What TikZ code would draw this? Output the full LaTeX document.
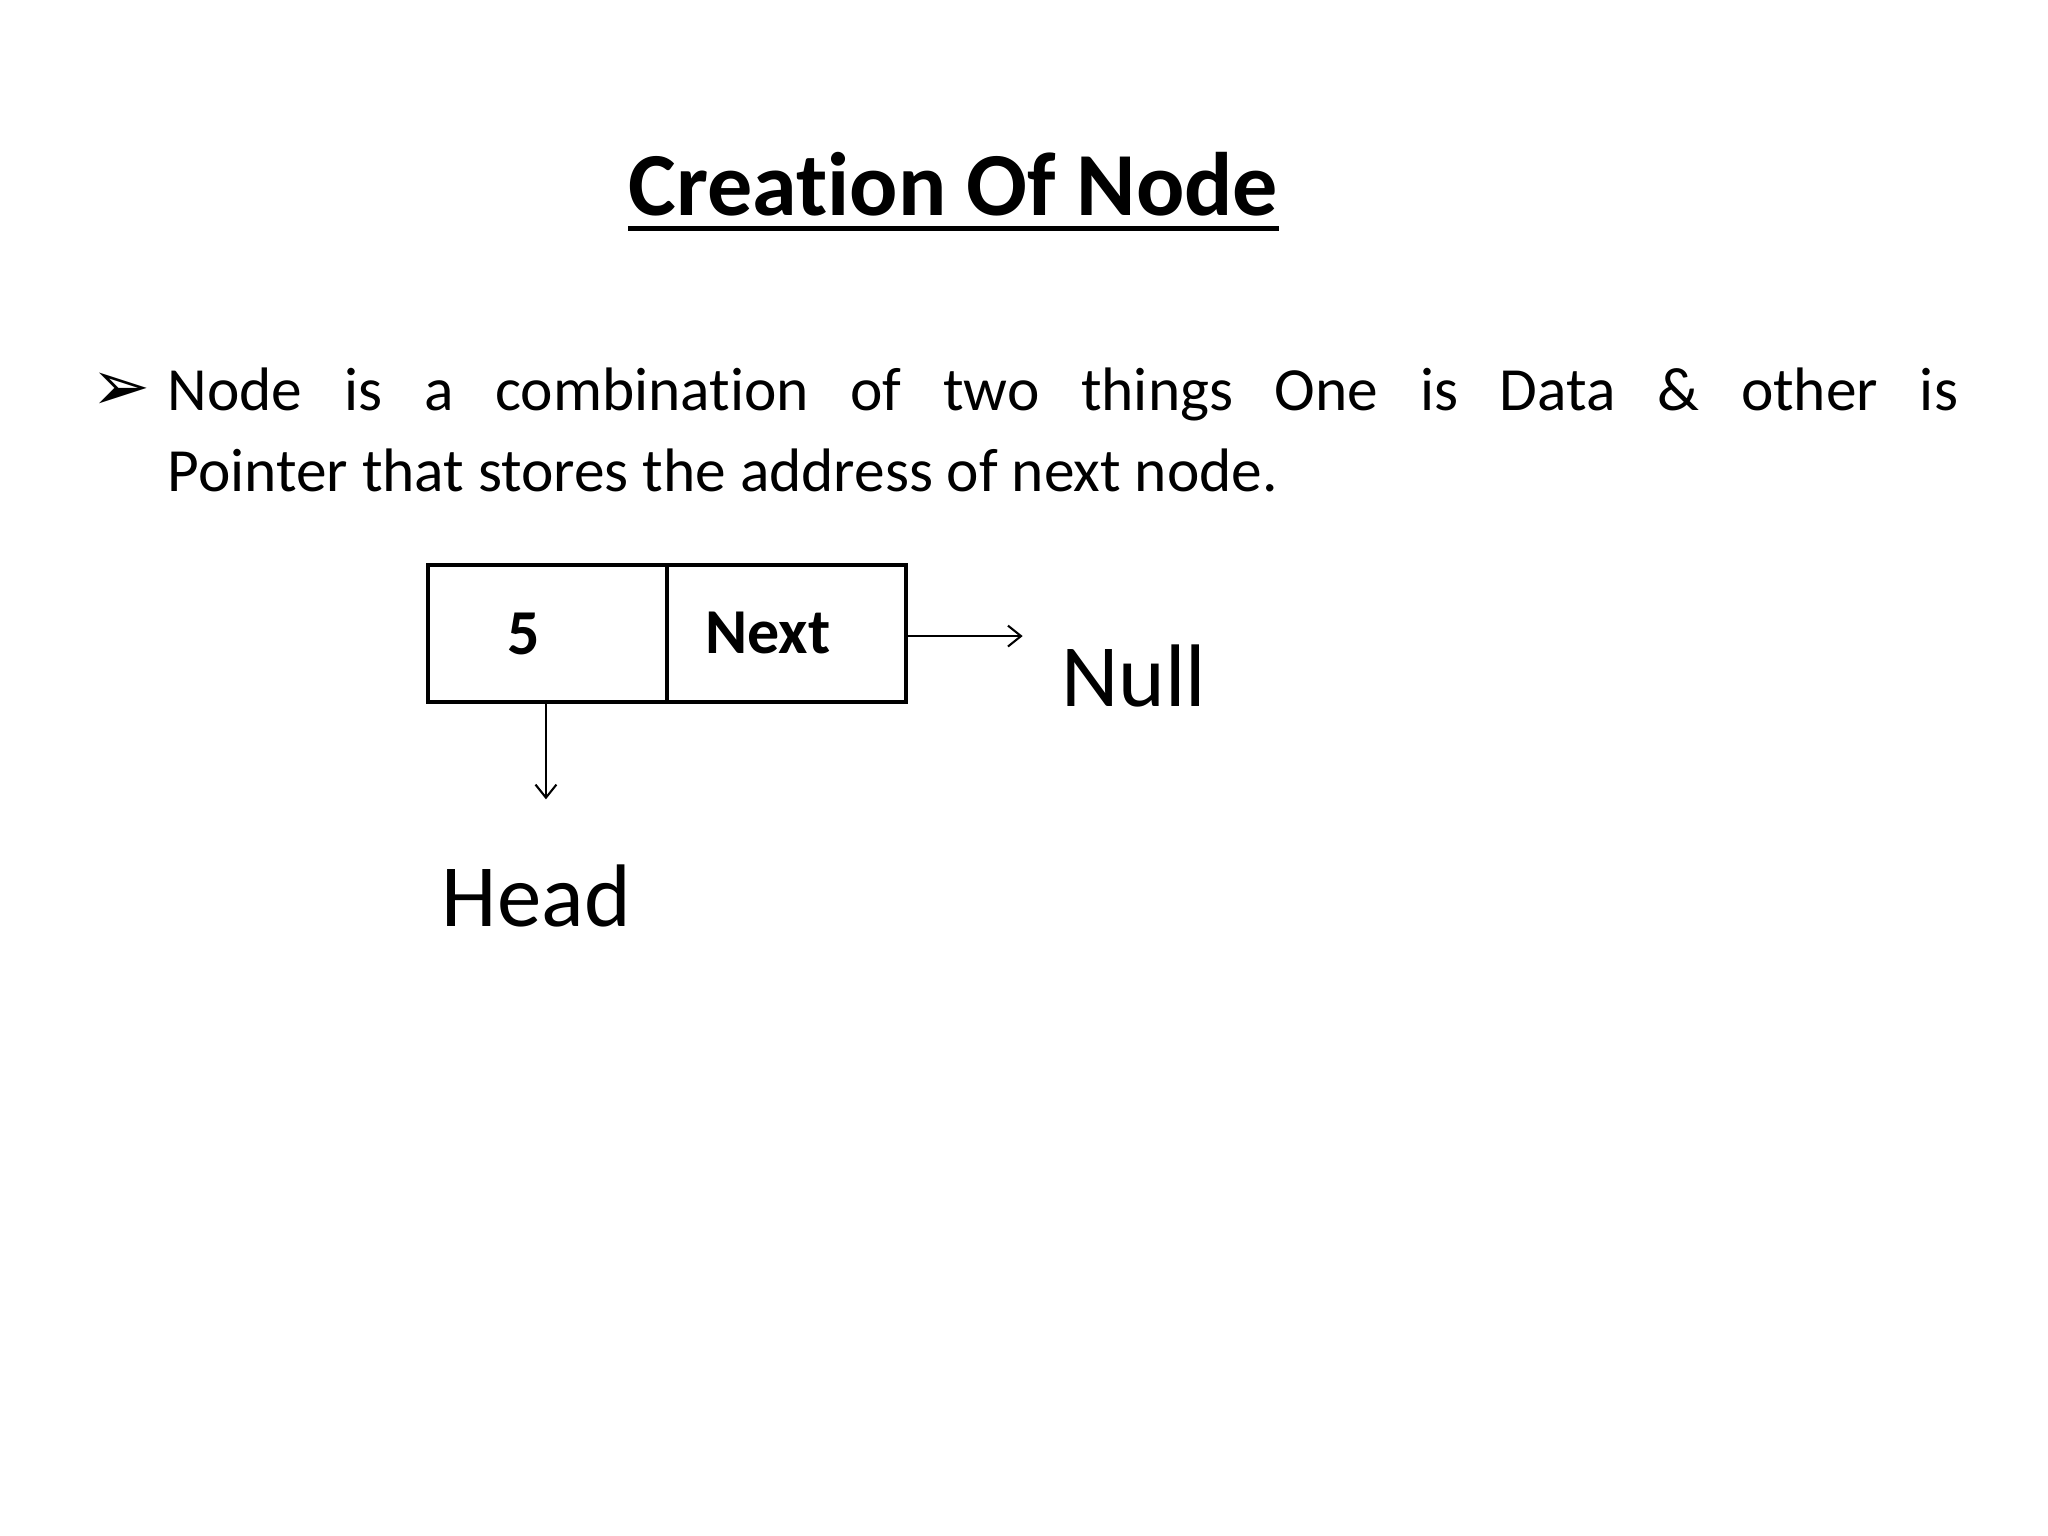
\documentclass[tikz,border=0pt]{standalone}
\usepackage{fontspec}
\usetikzlibrary{arrows.meta}
\setmainfont[Ligatures={NoCommon}]{Carlito}
\newfontfamily\dvs{DejaVu Sans}
\begin{document}
\begin{tikzpicture}[x=0.5pt,y=-0.5pt,
  txt/.style={inner sep=0pt,anchor=base west},
  cell/.style={draw,line width=1.5pt,minimum height=52.5pt,inner sep=0pt,font=\fontsize{24.5}{30}\selectfont\bfseries},
  arr/.style={->,line width=0.8pt,>={Straight Barb[length=5pt,width=8pt]}}]
\useasboundingbox (0,0) rectangle (1568,1176);
\node[inner sep=0pt,anchor=base] (title) at (730,165) {\fontsize{34.5}{40}\selectfont\bfseries Creation Of Node};
\draw[line width=1.6pt] ([yshift=-5pt]title.base west) -- ([yshift=-5pt]title.base east);
\node[inner sep=0pt,anchor=base west] (bul) at (70,314) {\dvs\fontsize{27}{30}\selectfont ➢};
\node[inner sep=0pt,anchor=north west,text width=685.5pt,align=justify,font=\fontsize{23.5}{31}\selectfont] (body) at (128,281)
 {Node is a combination of two things One is Data \& other is\linebreak Pointer that stores the address of next node.};
\node[cell,minimum width=91.5pt,anchor=north west] (data) at (326,431) {\hspace*{-18pt}5};
\node[cell,minimum width=91.5pt,anchor=north west] (next) at (509,431) {\hspace*{-14pt}Next};
\coordinate (nullend) at (783,487);
\coordinate (headend) at (418,612);
\draw[arr] (next.east |- nullend) -- (nullend);
\draw[arr] (data.south -| headend) -- (headend);
\node[txt,font=\fontsize{34}{36}\selectfont] (null) at (812,541) {Null};
\node[txt,font=\fontsize{34}{36}\selectfont] (head) at (338,709) {Head};
\end{tikzpicture}
\end{document}
